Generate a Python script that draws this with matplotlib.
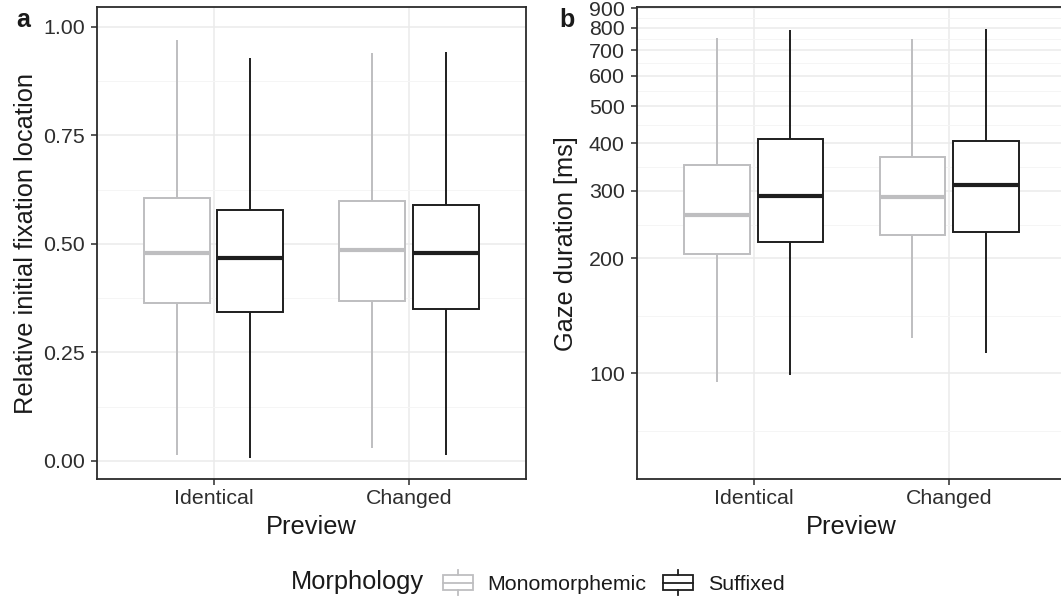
import matplotlib
matplotlib.use("Agg")
import matplotlib.pyplot as plt
from matplotlib.legend_handler import HandlerBase
from matplotlib.patches import Rectangle, Patch
from matplotlib.lines import Line2D
from matplotlib.ticker import FixedLocator, NullFormatter

plt.rcParams['font.family'] = ['Liberation Sans', 'DejaVu Sans']

# ---- data -------------------------------------------------------------
preview = ["Identical", "Changed"]
morphology = ["Monomorphemic", "Suffixed"]

# relative initial fixation location (five-number summaries per preview)
fix_mono_whislo = [0.013, 0.029]
fix_mono_q1 = [0.363, 0.368]
fix_mono_med = [0.478, 0.486]
fix_mono_q3 = [0.606, 0.598]
fix_mono_whishi = [0.969, 0.939]

fix_suff_whislo = [0.006, 0.013]
fix_suff_q1 = [0.344, 0.350]
fix_suff_med = [0.467, 0.478]
fix_suff_q3 = [0.578, 0.589]
fix_suff_whishi = [0.927, 0.942]

# gaze duration in ms
gaze_mono_whislo = [95, 124]
gaze_mono_q1 = [205, 230]
gaze_mono_med = [260, 290]
gaze_mono_q3 = [351, 369]
gaze_mono_whishi = [752, 748]

gaze_suff_whislo = [99, 113]
gaze_suff_q1 = [221, 234]
gaze_suff_med = [291, 310]
gaze_suff_q3 = [410, 405]
gaze_suff_whishi = [791, 795]

fix_ticks = [0.0, 0.25, 0.5, 0.75, 1.0]
fix_ticklabels = ["0.00", "0.25", "0.50", "0.75", "1.00"]
gaze_ticks = [100, 200, 300, 400, 500, 600, 700, 800, 900]
gaze_ticklabels = ["100", "200", "300", "400", "500", "600", "700", "800", "900"]

# ---- style ------------------------------------------------------------
MONO = "#BEBEC0"
SUFF = "#1E1E1E"
TXT = "#1A1A1A"
TICK_TXT = "#2E2E2E"
BORDER = "#2B2B2B"
GRID = "#EBEBEB"
GRID_MINOR = "#F5F5F5"
BOX_LW = 1.4
MED_LW = 3.0
DODGE = 0.1875
BOX_W = 0.3375
TICK_FS = 15.4
TITLE_FS = 18.3

fig = plt.figure(figsize=(10.61, 6.02), dpi=100)
ax_a = fig.add_axes([0.0911, 0.2035, 0.4048, 0.7844])
ax_b = fig.add_axes([0.6001, 0.2035, 0.4048, 0.7844])


def stats_list(whislo, q1, med, q3, whishi):
    return [dict(whislo=a, q1=b, med=c, q3=d, whishi=e, fliers=[])
            for a, b, c, d, e in zip(whislo, q1, med, q3, whishi)]


def draw_group(ax, stats, offset, color):
    pos = [i + 1 + offset for i in range(len(stats))]
    ax.bxp(stats, positions=pos, widths=BOX_W, showcaps=False,
           showfliers=False, patch_artist=True, manage_ticks=False,
           boxprops=dict(facecolor="white", edgecolor=color, linewidth=BOX_LW),
           whiskerprops=dict(color=color, linewidth=BOX_LW, solid_capstyle="butt"),
           medianprops=dict(color=color, linewidth=MED_LW, solid_capstyle="butt"))


def style_axes(ax):
    ax.set_xlim(0.4, 2.6)
    ax.set_xticks([1, 2])
    ax.set_xticklabels(preview)
    ax.set_axisbelow(True)
    ax.grid(True, which="major", color=GRID, linewidth=1.1)
    ax.grid(True, which="minor", axis="y", color=GRID_MINOR, linewidth=0.7)
    for s in ax.spines.values():
        s.set_color(BORDER)
        s.set_linewidth(1.3)
    ax.tick_params(axis="both", which="major", direction="out", length=4.3,
                   width=1.1, color=BORDER, labelsize=TICK_FS, labelcolor=TICK_TXT)
    ax.tick_params(axis="x", pad=2.6)
    ax.tick_params(axis="y", pad=4.3)
    ax.tick_params(axis="y", which="minor", length=0)
    ax.set_xlabel("Preview", fontsize=TITLE_FS, color=TXT)
    ax.xaxis.set_label_coords(0.5, -0.0758)
    ax.xaxis.label.set_va("top")


# panel a
draw_group(ax_a, stats_list(fix_mono_whislo, fix_mono_q1, fix_mono_med,
                            fix_mono_q3, fix_mono_whishi), -DODGE, MONO)
draw_group(ax_a, stats_list(fix_suff_whislo, fix_suff_q1, fix_suff_med,
                            fix_suff_q3, fix_suff_whishi), DODGE, SUFF)
ax_a.set_ylim(-0.0429, 1.0447)
ax_a.set_yticks(fix_ticks)
ax_a.set_yticklabels(fix_ticklabels)
ax_a.yaxis.set_minor_locator(FixedLocator([0.125, 0.375, 0.625, 0.875]))
style_axes(ax_a)
ax_a.set_ylabel("Relative initial fixation location", fontsize=TITLE_FS, color=TXT)
ax_a.yaxis.set_label_coords(-0.1367, 0.5)

# panel b (log scale)
draw_group(ax_b, stats_list(gaze_mono_whislo, gaze_mono_q1, gaze_mono_med,
                            gaze_mono_q3, gaze_mono_whishi), -DODGE, MONO)
draw_group(ax_b, stats_list(gaze_suff_whislo, gaze_suff_q1, gaze_suff_med,
                            gaze_suff_q3, gaze_suff_whishi), DODGE, SUFF)
ax_b.set_yscale("log")
ax_b.set_ylim(52.8, 906)
ax_b.yaxis.set_major_locator(FixedLocator(gaze_ticks))
ax_b.set_yticklabels(gaze_ticklabels)
minor_b = [(50 * 100) ** 0.5] + [(a * b) ** 0.5 for a, b in zip(gaze_ticks[:-1], gaze_ticks[1:])]
ax_b.yaxis.set_minor_locator(FixedLocator(minor_b))
ax_b.yaxis.set_minor_formatter(NullFormatter())
style_axes(ax_b)
ax_b.set_ylabel("Gaze duration [ms]", fontsize=TITLE_FS, color=TXT)
ax_b.yaxis.set_label_coords(-0.136, 0.5)

# panel letters
fig.text(16 / 1061, 1 - 26.7 / 602, "a", fontsize=18, fontweight="bold",
         color=TXT, ha="left", va="baseline")
fig.text(559 / 1061, 1 - 26.7 / 602, "b", fontsize=18, fontweight="bold",
         color=TXT, ha="left", va="baseline")


# legend keys drawn as small boxplot glyphs
class BoxKey(HandlerBase):
    def create_artists(self, legend, orig_handle, xdescent, ydescent,
                       width, height, fontsize, trans):
        col = orig_handle.get_edgecolor()
        x0 = -xdescent
        yc = -ydescent + height / 2
        bh = height * 0.62
        lw = 1.3
        rect = Rectangle((x0, yc - bh / 2), width, bh, fill=False,
                         edgecolor=col, linewidth=lw, transform=trans)
        xm = x0 + width / 2
        med = Line2D([x0, x0 + width], [yc, yc], color=col, lw=lw, transform=trans)
        up = Line2D([xm, xm], [yc + bh / 2, -ydescent + height], color=col,
                    lw=lw, transform=trans)
        dn = Line2D([xm, xm], [-ydescent, yc - bh / 2], color=col,
                    lw=lw, transform=trans)
        return [rect, med, up, dn]


handles = [Patch(edgecolor=MONO, facecolor="none"),
           Patch(edgecolor=SUFF, facecolor="none")]
leg = fig.legend(handles, morphology, loc="center left",
                 bbox_to_anchor=(442.7 / 1061, 1 - 582.5 / 602), ncol=2,
                 frameon=False, fontsize=TICK_FS, handlelength=1.40,
                 handleheight=1.37, handletextpad=0.69, columnspacing=0.78,
                 borderpad=0, borderaxespad=0,
                 handler_map={Patch: BoxKey()})
for t in leg.get_texts():
    t.set_color(TXT)
fig.text(290.5 / 1061, 1 - 582.5 / 602, "Morphology", fontsize=TITLE_FS, color=TXT,
         ha="left", va="center")

fig.savefig("out.png", dpi=100)
